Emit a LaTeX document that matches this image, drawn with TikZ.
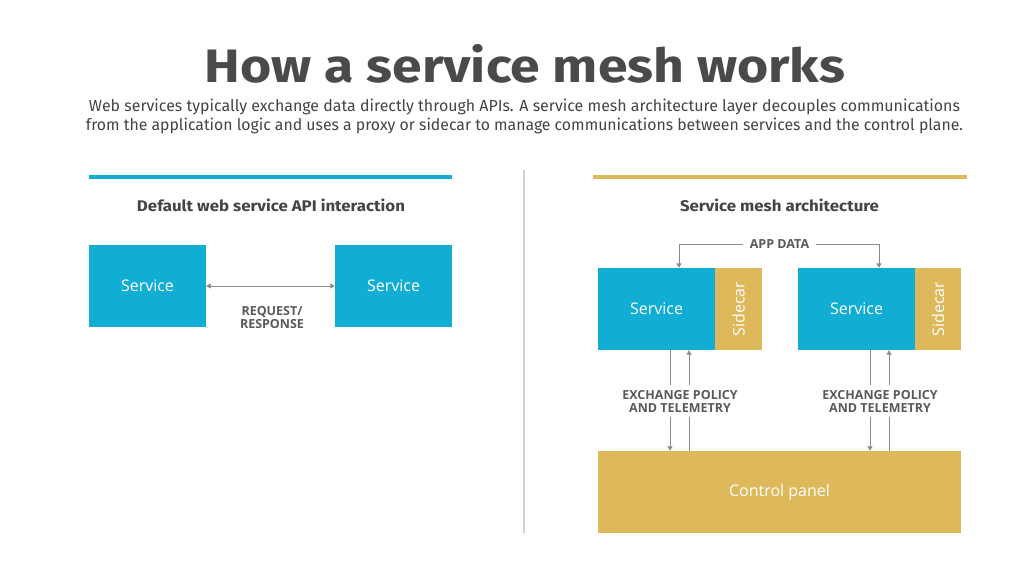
\documentclass[tikz,border=0pt]{standalone}
\usepackage{fontspec}
\setmainfont{Open Sans}
\newfontfamily\titlefont{Fira Sans}
\usetikzlibrary{arrows.meta,positioning}
\definecolor{meshblue}{HTML}{12ADD5}
\definecolor{meshgold}{HTML}{DDB95B}
\definecolor{titlegray}{HTML}{4A4A4A}
\definecolor{textgray}{HTML}{444444}
\definecolor{labelgray}{HTML}{5A5A5A}
\definecolor{linegray}{HTML}{8A8A8A}
\tikzset{
  bluebox/.style={fill=meshblue, draw=none, inner sep=0pt, minimum width=117pt, minimum height=82pt, text=white, font=\fontsize{16}{19}\selectfont},
  sidebox/.style={fill=meshgold, draw=none, inner sep=0pt, minimum height=82pt, text=white, font=\fontsize{16}{19}\selectfont},
  capslabel/.style={text=labelgray, font=\bfseries\fontsize{12.5}{14}\selectfont, align=center, inner sep=0pt},
  conn/.style={draw=linegray, line width=0.9pt},
  tip/.style={-{Triangle[length=4.5pt,width=5pt]}},
}
\begin{document}
\begin{tikzpicture}[x=1pt,y=-1pt]
\useasboundingbox (0,0) rectangle (1030,579);
\fill[white] (0,0) rectangle (1030,579);

% title and subtitle
\node[anchor=base, inner sep=0pt, text=titlegray] (title) at (525,82)
  {\resizebox{640pt}{38pt}{\titlefont\bfseries How a service mesh works}};
\node[anchor=base, inner sep=0pt, text=textgray] (sub1) at (524.5,111)
  {\resizebox{871pt}{12.5pt}{\titlefont Web services typically exchange data directly through APIs. A service mesh architecture layer decouples communications}};
\node[anchor=base, inner sep=0pt, text=textgray] (sub2) at (524.5,130)
  {\resizebox{877pt}{12.5pt}{\titlefont from the application logic and uses a proxy or sidecar to manage communications between services and the control plane.}};

% section rules
\draw[meshblue, line width=4pt] (89,177) coordinate (bl) -- (452,177) coordinate (br);
\draw[meshgold, line width=4pt] (593,177) coordinate (gl) -- (967,177) coordinate (gr);
\draw[black!18, line width=1.5pt] (524,170) coordinate (dt) -- (524,533) coordinate (db);

% headings
\node[anchor=base, inner sep=0pt, text=textgray] (h1) at (271,211)
  {\resizebox{268pt}{12.5pt}{\titlefont\bfseries Default web service API interaction}};
\node[anchor=base, inner sep=0pt, text=textgray] (h2) at (779.5,211)
  {\resizebox{199pt}{12.5pt}{\titlefont\bfseries Service mesh architecture}};

% left diagram
\node[bluebox] (ls) at (147.5,286) {Service};
\node[bluebox] (rs) at (393.5,286) {Service};
\draw[conn, {Triangle[length=4.5pt,width=5pt]}-{Triangle[length=4.5pt,width=5pt]}] (ls.east) -- (rs.west);
\node[capslabel] (rr) at (272,318) {REQUEST/\\[-1pt]RESPONSE};

% right diagram
\node[bluebox] (s1) at (656.5,309) {Service};
\node[sidebox, minimum width=47pt] (c1) at (738.5,309) {\rotatebox{90}{Sidecar}};
\node[bluebox] (s2) at (856.5,309) {Service};
\node[sidebox, minimum width=46pt] (c2) at (938,309) {\rotatebox{90}{Sidecar}};
\node[fill=meshgold, inner sep=0pt, minimum width=363pt, minimum height=82pt, text=white, font=\fontsize{16}{19}\selectfont] (cp) at (779.5,492) {Control panel};

\node[capslabel, fill=white, inner xsep=7pt] (app) at (779.5,244) {APP DATA};
\draw[conn, tip] (app.west) -| ([xshift=22.5pt]s1.north);
\draw[conn, tip] (app.east) -| ([xshift=22.5pt]s2.north);

\node[capslabel, inner ysep=5pt] (ex1) at (680,401) {EXCHANGE POLICY\\[-1pt]AND TELEMETRY};
\node[capslabel, inner ysep=5pt] (ex2) at (880,401) {EXCHANGE POLICY\\[-1pt]AND TELEMETRY};

\foreach \s/\e in {s1/ex1, s2/ex2}{
  \coordinate (\s d) at ([xshift=13.5pt]\s.south);
  \coordinate (\s u) at ([xshift=32.5pt]\s.south);
  \draw[conn] (\s d) -- (\e.north -| \s d);
  \draw[conn, tip] (\e.south -| \s d) -- (cp.north -| \s d);
  \draw[conn] (cp.north -| \s u) -- (\e.south -| \s u);
  \draw[conn, tip] (\e.north -| \s u) -- (\s u);
}
\end{tikzpicture}
\end{document}
